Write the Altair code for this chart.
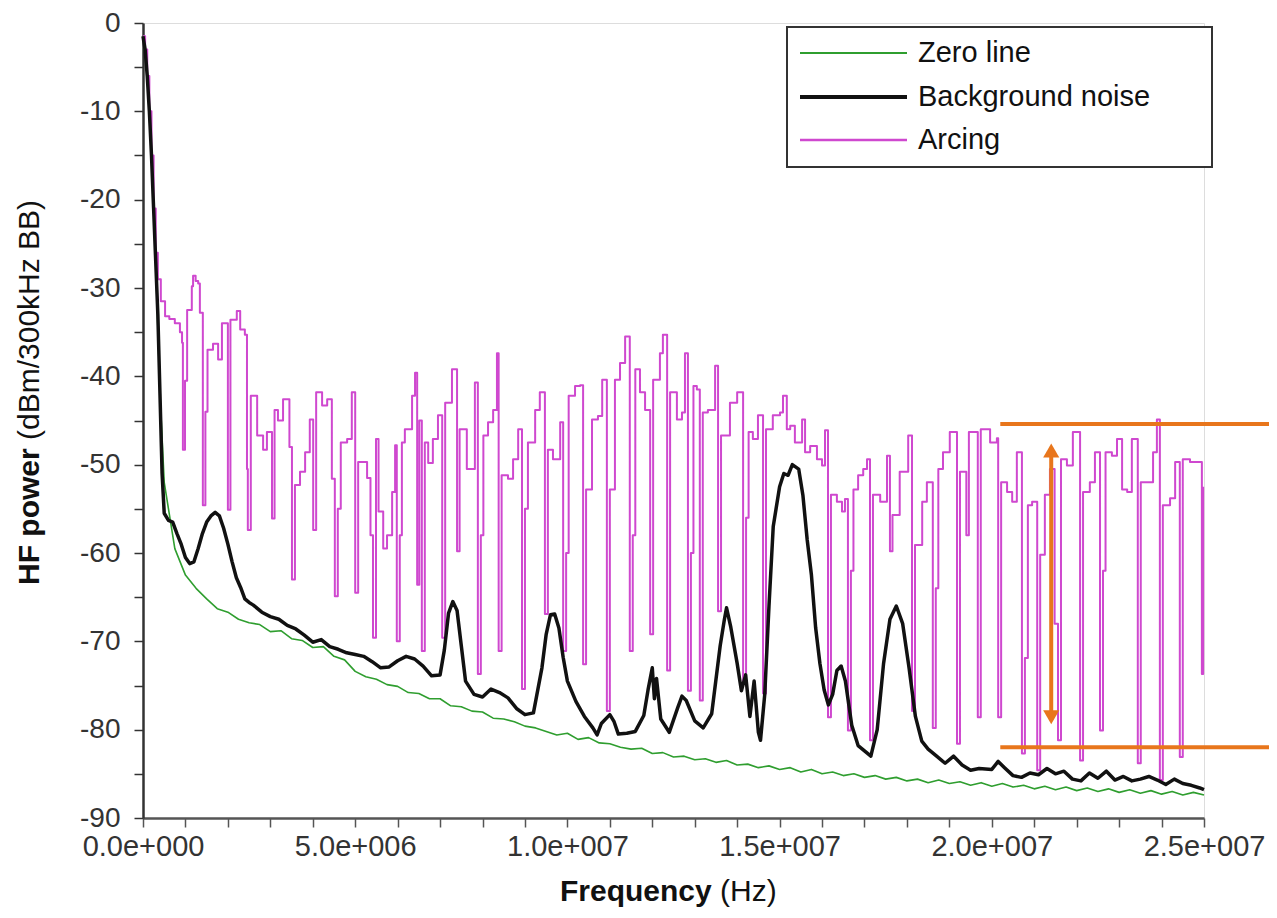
import altair as alt
import pandas as pd

# ---------------- data (frequency in MHz, power in dBm) ----------------
series_names = ["Zero line", "Background noise", "Arcing"]
series_colors = ["#2f9e2f", "#111111", "#cf48cf"]

zero_line = [
    (0.0, -1.5), (0.1, -6), (0.2, -15), (0.3, -27), (0.4, -42), (0.5, -52),
    (0.75, -59.5), (1.0, -62.5), (1.25, -64.0), (1.5, -65.2), (1.75, -66.3),
    (2.0, -66.7), (2.25, -67.5), (2.5, -67.9), (2.75, -68.1), (3.0, -68.9),
    (3.25, -68.8), (3.5, -69.7), (3.75, -69.9), (4.0, -70.7), (4.25, -70.6),
    (4.5, -71.7), (4.75, -72.1), (5.0, -73.4), (5.25, -74.0), (5.5, -74.3),
    (5.75, -74.9), (6.0, -75.1), (6.25, -75.8), (6.5, -75.9), (6.75, -76.5),
    (7.0, -76.5), (7.25, -77.3), (7.5, -77.4), (7.75, -77.9), (8.0, -78.0),
    (8.25, -78.7), (8.5, -78.8), (8.75, -79.1), (9.0, -79.6), (9.25, -79.8),
    (9.5, -80.2), (9.75, -80.6), (10.0, -80.4), (10.25, -81.1), (10.5, -80.9),
    (10.75, -81.5), (11.0, -81.6), (11.25, -82.0), (11.5, -82.2), (11.75, -82.1),
    (12.0, -82.7), (12.25, -82.6), (12.5, -83.1), (12.75, -83.0), (13.0, -83.4),
    (13.25, -83.3), (13.5, -83.7), (13.75, -83.5), (14.0, -84.0), (14.25, -83.9),
    (14.5, -84.3), (14.75, -84.1), (15.0, -84.5), (15.25, -84.3), (15.5, -84.8),
    (15.75, -84.5), (16.0, -85.0), (16.25, -84.8), (16.5, -85.2), (16.75, -85.0),
    (17.0, -85.4), (17.25, -85.2), (17.5, -85.6), (17.75, -85.4), (18.0, -85.8),
    (18.25, -85.6), (18.5, -86.0), (18.75, -85.7), (19.0, -86.1), (19.25, -85.9),
    (19.5, -86.3), (19.75, -86.0), (20.0, -86.4), (20.25, -86.1), (20.5, -86.5),
    (20.75, -86.3), (21.0, -86.7), (21.25, -86.4), (21.5, -86.8), (21.75, -86.5),
    (22.0, -86.9), (22.25, -86.6), (22.5, -87.0), (22.75, -86.7), (23.0, -87.1),
    (23.25, -86.8), (23.5, -87.2), (23.75, -86.9), (24.0, -87.3), (24.25, -87.0),
    (24.5, -87.4), (24.75, -87.1), (25.0, -87.4),
]

background_noise = [
    (0.00, -1.5), (0.05, -3), (0.10, -6), (0.15, -10), (0.20, -15), (0.25, -21),
    (0.30, -27), (0.35, -33), (0.40, -42), (0.45, -51), (0.50, -55.5), (0.60, -56.3),
    (0.70, -56.5), (0.80, -57.8), (0.90, -59.0), (1.00, -60.5), (1.10, -61.2),
    (1.20, -61.0), (1.30, -59.5), (1.40, -57.8), (1.50, -56.5), (1.60, -55.8),
    (1.70, -55.4), (1.80, -55.8), (1.90, -57.2), (2.00, -59.0), (2.10, -61.0),
    (2.20, -62.8), (2.30, -63.9), (2.40, -65.2), (2.50, -65.6), (2.60, -65.9),
    (2.80, -66.7), (3.00, -67.2), (3.20, -67.5), (3.40, -68.2), (3.60, -68.6),
    (3.80, -69.3), (4.00, -70.1), (4.20, -69.8), (4.40, -70.6), (4.60, -70.9),
    (4.80, -71.3), (5.00, -71.5), (5.20, -71.7), (5.40, -72.3), (5.60, -73.0),
    (5.80, -72.9), (6.00, -72.2), (6.20, -71.7), (6.40, -72.0), (6.60, -72.8),
    (6.80, -73.9), (7.00, -73.8), (7.10, -71.0), (7.20, -66.8), (7.30, -65.5),
    (7.40, -66.5), (7.50, -70.5), (7.60, -74.5), (7.80, -76.0), (8.00, -76.3),
    (8.20, -75.4), (8.40, -75.8), (8.60, -76.4), (8.80, -77.6), (9.00, -78.3),
    (9.20, -78.1), (9.40, -73.0), (9.50, -69.2), (9.60, -67.0), (9.70, -66.9),
    (9.80, -68.5), (9.90, -71.8), (10.00, -74.5), (10.20, -76.8), (10.40, -78.5),
    (10.60, -79.8), (10.70, -80.6), (10.80, -79.3), (11.00, -78.3), (11.10, -79.1),
    (11.20, -80.5), (11.40, -80.4), (11.60, -80.2), (11.80, -78.4), (11.90, -75.5),
    (12.00, -73.0), (12.05, -76.5), (12.10, -74.2), (12.20, -78.8), (12.40, -80.3),
    (12.60, -77.5), (12.70, -76.2), (12.80, -76.7), (13.00, -79.0), (13.20, -79.8),
    (13.40, -78.2), (13.60, -70.5), (13.70, -67.5), (13.75, -66.2), (13.85, -68.4),
    (14.00, -72.5), (14.10, -75.6), (14.20, -73.8), (14.30, -78.5), (14.40, -74.5),
    (14.50, -80.3), (14.55, -81.2), (14.65, -76.0), (14.75, -66.0), (14.85, -57.0),
    (15.00, -52.5), (15.10, -51.0), (15.20, -51.2), (15.30, -50.0), (15.45, -50.5),
    (15.55, -53.5), (15.65, -58.5), (15.75, -62.5), (15.85, -68.5), (15.95, -72.5),
    (16.05, -75.5), (16.15, -77.2), (16.25, -76.0), (16.35, -73.3), (16.45, -72.8),
    (16.55, -74.5), (16.70, -79.5), (16.85, -81.8), (17.00, -82.4), (17.15, -83.0),
    (17.30, -80.0), (17.45, -72.5), (17.60, -67.5), (17.75, -66.0), (17.90, -68.0),
    (18.05, -73.0), (18.20, -78.5), (18.35, -81.3), (18.50, -82.2), (18.70, -83.0),
    (18.90, -83.8), (19.10, -83.0), (19.30, -84.0), (19.50, -84.6), (19.70, -84.4),
    (20.00, -84.5), (20.15, -83.6), (20.30, -84.3), (20.50, -85.2), (20.70, -85.4),
    (20.90, -84.9), (21.10, -85.1), (21.30, -84.4), (21.50, -85.0), (21.70, -84.7),
    (21.90, -85.6), (22.10, -85.8), (22.30, -84.9), (22.50, -85.5), (22.70, -84.7),
    (22.90, -85.7), (23.10, -85.3), (23.30, -85.8), (23.50, -85.6), (23.70, -85.3),
    (23.90, -85.7), (24.10, -86.2), (24.30, -85.6), (24.50, -86.1), (24.70, -86.3),
    (24.90, -86.6), (25.00, -86.8),
]

arcing = [
    (0.00, -1.5), (0.05, -3), (0.10, -6), (0.15, -10), (0.20, -15), (0.25, -21),
    (0.30, -26), (0.35, -29), (0.42, -31.5), (0.52, -33.2), (0.62, -33.5), (0.75, -34.0),
    (0.87, -35.0), (0.92, -36.2), (0.94, -48.3), (0.99, -40.5), (1.04, -32.5),
    (1.15, -29.8), (1.18, -28.6), (1.24, -29.2), (1.30, -29.5), (1.34, -32.8),
    (1.41, -54.6), (1.47, -44.0), (1.52, -37.0), (1.65, -36.3), (1.77, -38.1),
    (1.86, -34.0), (2.00, -55.1), (2.06, -33.6), (2.21, -32.6), (2.29, -34.7),
    (2.40, -35.3), (2.45, -50.5), (2.47, -57.4), (2.54, -42.2), (2.69, -46.7),
    (2.83, -48.3), (2.92, -46.3), (3.04, -56.1), (3.10, -43.8), (3.18, -45.0),
    (3.30, -42.6), (3.45, -48.0), (3.51, -63.0), (3.58, -52.3), (3.70, -50.8),
    (3.82, -48.6), (3.93, -44.9), (4.01, -57.4), (4.08, -41.8), (4.22, -43.3),
    (4.34, -42.6), (4.45, -51.6), (4.52, -64.9), (4.59, -55.0), (4.66, -47.5),
    (4.81, -47.1), (4.92, -41.8), (5.00, -64.5), (5.07, -49.7), (5.28, -51.5),
    (5.36, -58.0), (5.42, -69.6), (5.49, -47.1), (5.55, -55.3), (5.66, -59.5),
    (5.75, -58.0), (5.87, -53.1), (5.94, -47.8), (5.98, -70.0), (6.05, -58.0),
    (6.10, -47.5), (6.17, -46.0), (6.34, -42.2), (6.41, -39.6), (6.46, -63.6),
    (6.51, -45.0), (6.57, -71.1), (6.64, -47.5), (6.72, -49.8), (6.83, -47.1),
    (6.95, -44.4), (7.05, -69.6), (7.12, -43.0), (7.28, -39.2), (7.40, -59.8),
    (7.46, -46.0), (7.63, -50.5), (7.82, -40.7), (7.89, -73.7), (7.96, -58.0),
    (8.02, -46.7), (8.13, -45.2), (8.25, -43.8), (8.34, -37.4), (8.38, -71.1),
    (8.45, -51.2), (8.60, -51.6), (8.72, -49.4), (8.84, -46.0), (8.93, -75.4),
    (9.00, -55.0), (9.07, -47.5), (9.24, -43.8), (9.35, -41.8), (9.47, -66.9),
    (9.54, -48.3), (9.66, -49.4), (9.83, -45.2), (9.90, -71.1), (9.97, -60.0),
    (10.03, -42.2), (10.18, -41.1), (10.30, -41.0), (10.37, -72.6), (10.44, -52.8),
    (10.58, -44.9), (10.72, -44.5), (10.82, -40.4), (10.93, -77.9), (11.00, -52.8),
    (11.12, -40.4), (11.24, -38.5), (11.36, -35.5), (11.47, -71.1), (11.54, -58.0),
    (11.60, -39.2), (11.71, -41.8), (11.83, -43.8), (11.95, -69.2), (12.02, -40.4),
    (12.18, -37.4), (12.25, -35.3), (12.35, -73.3), (12.42, -41.8), (12.58, -44.9),
    (12.70, -44.1), (12.77, -37.4), (12.84, -75.6), (12.91, -60.0), (12.97, -41.1),
    (13.05, -41.5), (13.12, -76.7), (13.19, -44.1), (13.31, -43.8), (13.48, -38.8),
    (13.55, -66.6), (13.62, -46.7), (13.83, -43.0), (14.00, -41.8), (14.14, -74.8),
    (14.21, -56.0), (14.27, -46.3), (14.37, -47.1), (14.49, -44.4), (14.61, -75.9),
    (14.68, -46.0), (14.84, -44.4), (15.01, -44.1), (15.08, -42.2), (15.17, -46.0),
    (15.25, -45.6), (15.36, -47.5), (15.53, -44.9), (15.60, -48.6), (15.72, -47.9),
    (15.88, -49.4), (16.00, -50.1), (16.07, -46.1), (16.14, -78.6), (16.21, -53.4),
    (16.35, -54.2), (16.47, -55.3), (16.54, -53.9), (16.61, -80.1), (16.68, -62.0),
    (16.74, -52.8), (16.85, -51.2), (16.97, -50.5), (17.06, -49.4), (17.13, -81.2),
    (17.20, -53.4), (17.37, -54.2), (17.53, -49.0), (17.60, -59.8), (17.66, -55.7),
    (17.83, -50.8), (18.03, -46.7), (18.12, -77.9), (18.19, -59.1), (18.36, -54.2),
    (18.47, -52.0), (18.61, -79.8), (18.68, -64.0), (18.74, -50.5), (18.85, -48.6),
    (19.01, -46.3), (19.18, -81.6), (19.25, -50.8), (19.40, -58.0), (19.46, -46.3),
    (19.67, -78.6), (19.74, -46.0), (19.96, -47.5), (20.12, -47.0), (20.15, -78.6),
    (20.22, -52.0), (20.36, -53.1), (20.48, -54.2), (20.59, -48.6), (20.71, -82.7),
    (20.78, -71.9), (20.85, -54.6), (20.95, -54.2), (21.07, -84.6), (21.14, -60.2),
    (21.25, -53.4), (21.37, -50.5), (21.48, -68.0), (21.56, -81.2), (21.63, -49.4),
    (21.77, -50.1), (21.91, -46.3), (22.08, -83.5), (22.15, -53.1), (22.31, -52.0),
    (22.43, -48.6), (22.55, -80.1), (22.62, -62.0), (22.68, -48.6), (22.83, -49.0),
    (22.95, -47.1), (23.07, -52.8), (23.19, -53.1), (23.30, -47.1), (23.44, -83.8),
    (23.51, -52.0), (23.68, -52.0), (23.80, -48.6), (23.89, -44.9), (23.96, -85.7),
    (24.03, -54.6), (24.20, -53.8), (24.32, -49.7), (24.43, -83.1), (24.50, -49.4),
    (24.67, -49.7), (24.86, -49.7), (24.95, -73.7), (24.98, -52.5),
]

# axis ticks / labels
x_tick_values = [0, 1, 2, 3, 4, 5, 6, 7, 8, 9, 10, 11, 12, 13, 14, 15, 16, 17, 18, 19,
                 20, 21, 22, 23, 24, 25]
x_tick_labels = {0: "0.0e+000", 5: "5.0e+006", 10: "1.0e+007", 15: "1.5e+007",
                 20: "2.0e+007", 25: "2.5e+007"}
y_tick_values = [0, -5, -10, -15, -20, -25, -30, -35, -40, -45, -50, -55, -60, -65,
                 -70, -75, -80, -85, -90]
y_tick_labels = {0: "0", -10: "-10", -20: "-20", -30: "-30", -40: "-40", -50: "-50",
                 -60: "-60", -70: "-70", -80: "-80", -90: "-90"}

# orange annotation (amplitude band of the arcing signal)
band_levels = [-45.4, -82.0]
band_f = [20.2, 26.9]
arrow_f = 21.4
arrow_ends = [-48.4, -78.6]
orange = "#e8761c"

# ---------------- build table ----------------
rows = []
for name, pts in zip(series_names, [zero_line, background_noise, arcing]):
    for i, (f, db) in enumerate(pts):
        rows.append({"series": name, "f": f, "db": db, "i": i})
df = pd.DataFrame(rows)

FONT = "Liberation Sans"


def expr_from(mapping):
    parts = [f"datum.value == {k} ? '{v}'" for k, v in mapping.items()]
    return " : ".join(parts) + " : ''"


x_axis = alt.Axis(values=x_tick_values, labelExpr=expr_from(x_tick_labels), title=None,
                  grid=False, domainColor="#555555", domainWidth=2.5, tickColor="#555555",
                  tickWidth=1.5, tickSize=9, labelFontSize=29, labelFont=FONT,
                  labelColor="#333333", labelPadding=5, labelFlush=False, labelOverlap=False)
y_axis = alt.Axis(values=y_tick_values, labelExpr=expr_from(y_tick_labels), title=None,
                  grid=False, domainColor="#333333", domainWidth=2.5, tickColor="#333333",
                  tickWidth=1.5, tickSize=9, labelFontSize=28, labelFont=FONT,
                  labelColor="#333333", labelPadding=14, labelFlush=False, labelOverlap=False)

x_scale = alt.Scale(domain=[0, 25], nice=False, zero=False)
y_scale = alt.Scale(domain=[-90, 0], nice=False, zero=False)
X = alt.X("f:Q", scale=x_scale, axis=x_axis)
Y = alt.Y("db:Q", scale=y_scale, axis=y_axis)
color_scale = alt.Scale(domain=series_names, range=series_colors)


def line_layer(name, width, interp):
    return (
        alt.Chart(df)
        .transform_filter(alt.datum.series == name)
        .mark_line(strokeWidth=width, interpolate=interp, strokeJoin="round")
        .encode(x=X, y=Y, color=alt.Color("series:N", scale=color_scale, legend=None),
                order="i:Q")
    )


arc_layer = line_layer("Arcing", 2.0, "step-after")
zero_layer = line_layer("Zero line", 1.6, "linear")
noise_layer = line_layer("Background noise", 3.5, "linear")

# orange band lines + double arrow
band_df = pd.DataFrame({"db": band_levels, "f": [band_f[0]] * 2, "f2": [band_f[1]] * 2})
band = alt.Chart(band_df).mark_rule(color=orange, strokeWidth=4).encode(
    x=X, x2="f2:Q", y=Y)
arrow_df = pd.DataFrame({"f": [arrow_f], "db": [arrow_ends[0]], "db2": [arrow_ends[1]]})
shaft = alt.Chart(arrow_df).mark_rule(color=orange, strokeWidth=4).encode(
    x=X, y=Y, y2="db2:Q")
heads_df = pd.DataFrame({"f": [arrow_f, arrow_f], "db": arrow_ends,
                         "shape": ["triangle-up", "triangle-down"]})
heads = alt.Chart(heads_df).mark_point(filled=True, size=260, color=orange, opacity=1).encode(
    x=X, y=Y, shape=alt.Shape("shape:N", scale=None))

# legend (box, sample lines, labels)
one = pd.DataFrame({"k": [0]})
legend_layers = [
    alt.Chart(one).mark_rect(fill="white", stroke="#333333", strokeWidth=2).encode(
        x=alt.value(644), x2=alt.value(1069), y=alt.value(4), y2=alt.value(144))
]
legend_rows_y = [30, 74, 117]
legend_widths = [2, 4, 2.5]
for name, col, yy, w in zip(series_names, series_colors, legend_rows_y, legend_widths):
    legend_layers.append(
        alt.Chart(one).mark_rule(color=col, strokeWidth=w).encode(
            x=alt.value(657), x2=alt.value(764), y=alt.value(yy)))
    legend_layers.append(
        alt.Chart(one).mark_text(text=name, font=FONT, fontSize=29, color="#111111",
                                 align="left", baseline="middle").encode(
            x=alt.value(775), y=alt.value(yy)))

# axis titles with mixed weights
titles = [
    alt.Chart(one).mark_text(text="HF power", font=FONT, fontSize=30, fontWeight="bold",
                             angle=270, align="left", baseline="middle", color="#111111"
                             ).encode(x=alt.value(-113), y=alt.value(562)),
    alt.Chart(one).mark_text(text="(dBm/300kHz BB)", font=FONT, fontSize=30,
                             angle=270, align="left", baseline="middle", color="#111111"
                             ).encode(x=alt.value(-113), y=alt.value(417)),
    alt.Chart(one).mark_text(text="Frequency", font=FONT, fontSize=30, fontWeight="bold",
                             align="left", baseline="middle", color="#111111"
                             ).encode(x=alt.value(417), y=alt.value(869)),
    alt.Chart(one).mark_text(text="(Hz)", font=FONT, fontSize=30,
                             align="left", baseline="middle", color="#111111"
                             ).encode(x=alt.value(577), y=alt.value(869)),
]

chart = alt.layer(
    arc_layer, zero_layer, noise_layer, band, shaft, heads, *legend_layers, *titles
).properties(
    width=1061, height=795,
    padding={"left": 135, "top": 15, "right": 65, "bottom": 92},
    autosize=alt.AutoSizeParams(type="none"),
).configure_view(stroke=None).configure(background="white")

chart.save("out.html", embed_options={"renderer": "svg", "actions": False})
